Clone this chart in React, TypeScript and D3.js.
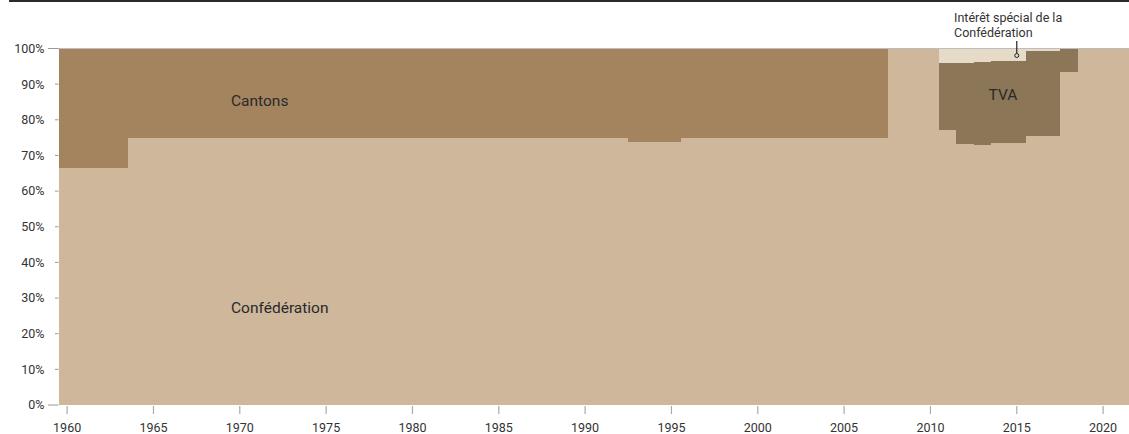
import React from "react";
import * as d3 from "d3";

const years: number[] = d3.range(1960, 2022);

// Confédération share (%) by year
const confValues: number[] = [
  66.7, 66.7, 66.7, 66.7, // 1960-1963
  75, 75, 75, 75, 75, 75, 75, 75, 75, 75, // 1964-1973
  75, 75, 75, 75, 75, 75, 75, 75, 75, 75, // 1974-1983
  75, 75, 75, 75, 75, 75, 75, 75, 75, // 1984-1992
  73.9, 73.9, 73.9, // 1993-1995
  75, 75, 75, 75, 75, 75, 75, 75, 75, 75, 75, 75, // 1996-2007
  100, 100, 100, // 2008-2010
  77.1, 73.2, 72.9, 73.5, 73.5, 75.5, 75.5, 93.4, // 2011-2018
  100, 100, 100, // 2019-2021
];

// TVA share (%) 2011-2018
const tvaYears: number[] = [2011, 2012, 2013, 2014, 2015, 2016, 2017, 2018];
const tvaValues: number[] = [18.8, 22.7, 23.3, 23.0, 23.0, 23.8, 23.8, 6.6];

const yTicks: number[] = [0, 10, 20, 30, 40, 50, 60, 70, 80, 90, 100];
const xTicks: number[] = [1960, 1965, 1970, 1975, 1980, 1985, 1990, 1995, 2000, 2005, 2010, 2015, 2020];

const keys = ["conf", "cantons", "tva", "interet"];
const colors: Record<string, string> = {
  conf: "#CEB79B",
  cantons: "#A4845F",
  tva: "#8B7657",
  interet: "#E6DAC8",
};

type Row = { year: number; conf: number; cantons: number; tva: number; interet: number };

const rows: Row[] = years.map((year, i) => {
  const conf = confValues[i];
  const ti = tvaYears.indexOf(year);
  const tva = ti >= 0 ? tvaValues[ti] : 0;
  const isNew = year >= 2008;
  const cantons = isNew ? 0 : 100 - conf;
  const interet = isNew ? Math.max(0, 100 - conf - tva) : 0;
  return { year, conf, cantons, tva, interet };
});

const W = 1129;
const H = 434;
const font = "Roboto, 'Liberation Sans', Arial, sans-serif";

export default function App() {
  const x = d3.scaleLinear().domain([1959.5, 2021.5]).range([58.5, 1129]);
  const y = d3.scaleLinear().domain([0, 100]).range([405, 48.5]);
  const series = d3.stack<Row>().keys(keys)(rows);

  return (
    <svg
      width={W}
      height={H}
      style={{ position: "absolute", left: 0, top: 0, background: "#fff" }}
      fontFamily={font}
    >
      <rect x={9} y={0} width={W - 9} height={2} fill="#2b2b2b" />
      {series.map((s) => (
        <g key={s.key} fill={colors[s.key]}>
          {s.map((d, i) => {
            const h = y(d[0]) - y(d[1]);
            if (h <= 0) return null;
            const yr = d.data.year;
            return (
              <rect
                key={i}
                x={x(yr - 0.5)}
                width={x(yr + 0.5) - x(yr - 0.5) + 0.5}
                y={y(d[1])}
                height={h + 0.3}
                shapeRendering="crispEdges"
              />
            );
          })}
        </g>
      ))}
      {/* 100% line */}
      <line x1={48} x2={W} y1={y(100)} y2={y(100)} stroke="#bdbdbd" strokeWidth={1.2} />
      {/* y axis */}
      {yTicks.map((t) => (
        <g key={t}>
          <line
            x1={t === 0 || t === 100 ? 48 : 55}
            x2={58.5}
            y1={y(t)}
            y2={y(t)}
            stroke="#999"
            strokeWidth={1}
          />
          <text x={44.5} y={y(t)} dy="0.35em" textAnchor="end" fontSize={12.5} fill="#333">
            {t}%
          </text>
        </g>
      ))}
      {/* x axis */}
      {xTicks.map((t) => (
        <g key={t}>
          <line x1={x(t)} x2={x(t)} y1={406} y2={414} stroke="#aaa" strokeWidth={1.2} />
          <text x={x(t)} y={432} textAnchor="middle" fontSize={12.5} fill="#333">
            {t}
          </text>
        </g>
      ))}
      {/* labels */}
      <text x={231} y={105.5} fontSize={15.5} fill="#2a2a2a">Cantons</text>
      <text x={231} y={313} fontSize={15.5} fill="#2a2a2a">Confédération</text>
      <text x={1003} y={99.5} fontSize={15.5} fill="#2a2a2a" textAnchor="middle">TVA</text>
      {/* annotation */}
      <text x={954} y={22} fontSize={12.5} fill="#333">Intérêt spécial de la</text>
      <text x={954} y={37} fontSize={12.5} fill="#333">Confédération</text>
      <line x1={x(2015)} x2={x(2015)} y1={41} y2={53.5} stroke="#222" strokeWidth={1.2} />
      <circle cx={x(2015)} cy={55.5} r={2} fill="#E6DAC8" stroke="#222" strokeWidth={1} />
    </svg>
  );
}
